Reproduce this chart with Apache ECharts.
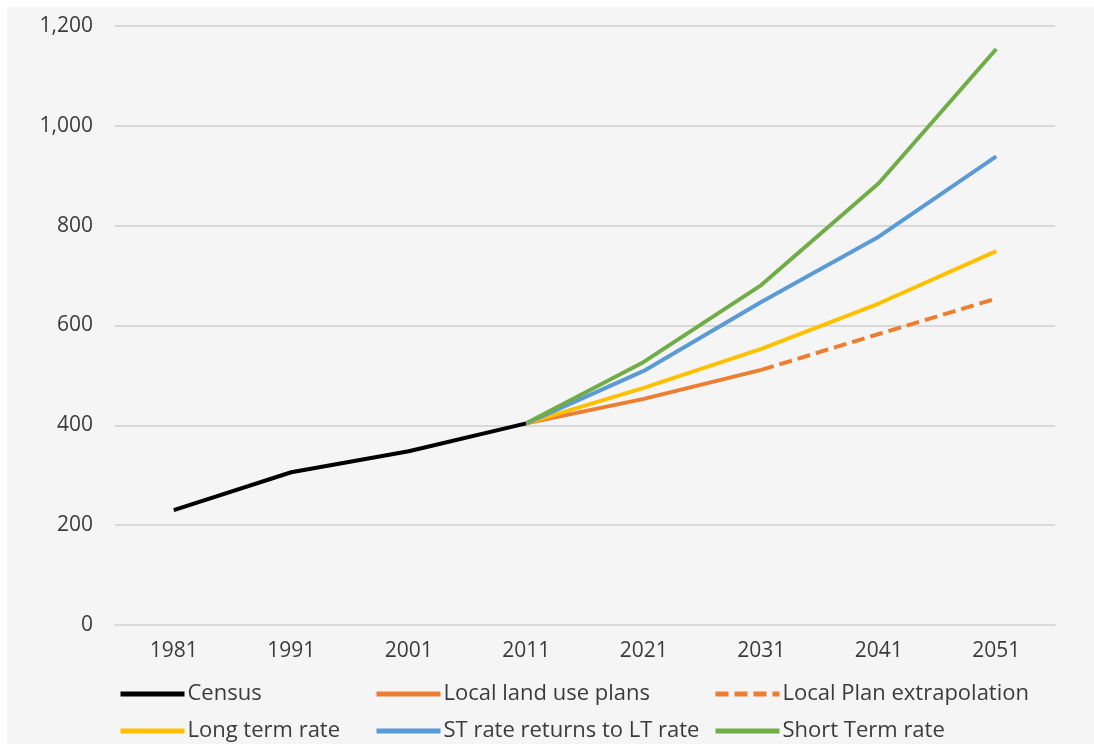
<!DOCTYPE html>
<html>
<head>
<meta charset="utf-8">
<script src="https://cdn.jsdelivr.net/npm/echarts@6/dist/echarts.min.js"></script>
<style>
html, body { margin: 0; padding: 0; background: #fff; }
#chart {
    position: absolute;
    left: 7px;
    top: 7px;
    width: 1087px;
    height: 737px;
    background: #f5f5f5;
}
</style>
</head>
<body>
<div id="chart"></div>
<script>
// categories + values
const years = ["1981", "1991", "2001", "2011", "2021", "2031", "2041", "2051"];
const census = [230, 306, 348, 404, "-", "-", "-", "-"];
const localPlans = ["-", "-", "-", 404, 453, 511, "-", "-"];
const localExtrap = ["-", "-", "-", "-", "-", 511, 583, 654];
const longTerm = ["-", "-", "-", 404, 475, 553, 644, 749];
const stReturns = ["-", "-", "-", 404, 509, 647, 778, 939];
const shortTerm = ["-", "-", "-", 404, 527, 681, 885, 1154];

const font = "'Open Sans', 'Noto Sans', sans-serif";
const textColor = "#3b3b3b";

function makeLine(name, data, color, dashed) {
    return {
        name: name,
        type: "line",
        data: data,
        symbol: "none",
        connectNulls: false,
        lineStyle: {
            color: color,
            width: 4,
            type: dashed ? [13, 6] : "solid",
        },
        itemStyle: { color: color },
    };
}

// one legend per item so the columns line up like the original
function makeLegend(name, left, top) {
    return {
        data: [name],
        left: left,
        top: top,
        itemWidth: 64,
        itemHeight: 20,
        itemGap: 0,
        padding: 0,
        itemStyle: { opacity: 0 },
        lineStyle: { width: 5 },
        textStyle: { fontFamily: font, fontSize: 22, color: textColor, padding: [0, 0, 0, -2] },
    };
}

let chart = echarts.init(document.getElementById("chart"));
let option = {
    animation: false,
    backgroundColor: "#f5f5f5",
    grid: {
        left: 108,
        right: 39,
        top: 19,
        bottom: 119,
    },
    legend: [
        makeLegend("Census", 111, 676),
        makeLegend("Local land use plans", 367, 676),
        makeLegend("Local Plan extrapolation", 706, 676),
        makeLegend("Long term rate", 111, 713),
        makeLegend("ST rate returns to LT rate", 367, 713),
        makeLegend("Short Term rate", 706, 713),
    ],
    xAxis: {
        type: "category",
        data: years,
        boundaryGap: true,
        axisLine: { lineStyle: { color: "#d9d9d9", width: 2 } },
        axisTick: { show: false },
        axisLabel: { fontFamily: font, fontSize: 21, color: textColor, margin: 16 },
    },
    yAxis: {
        type: "value",
        min: 0,
        max: 1200,
        interval: 200,
        axisLine: { show: false },
        axisTick: { show: false },
        splitLine: { lineStyle: { color: "#d9d9d9", width: 2 } },
        axisLabel: {
            fontFamily: font,
            fontSize: 21,
            color: textColor,
            margin: 22,
            formatter: (v) => v.toLocaleString("en-US"),
        },
    },
    series: [
        makeLine("Census", census, "#000000", false),
        makeLine("Local land use plans", localPlans, "#ed7d31", false),
        makeLine("Local Plan extrapolation", localExtrap, "#ed7d31", true),
        makeLine("Long term rate", longTerm, "#ffc000", false),
        makeLine("ST rate returns to LT rate", stReturns, "#5b9bd5", false),
        makeLine("Short Term rate", shortTerm, "#70ad47", false),
    ],
};
chart.setOption(option);
</script>
</body>
</html>
